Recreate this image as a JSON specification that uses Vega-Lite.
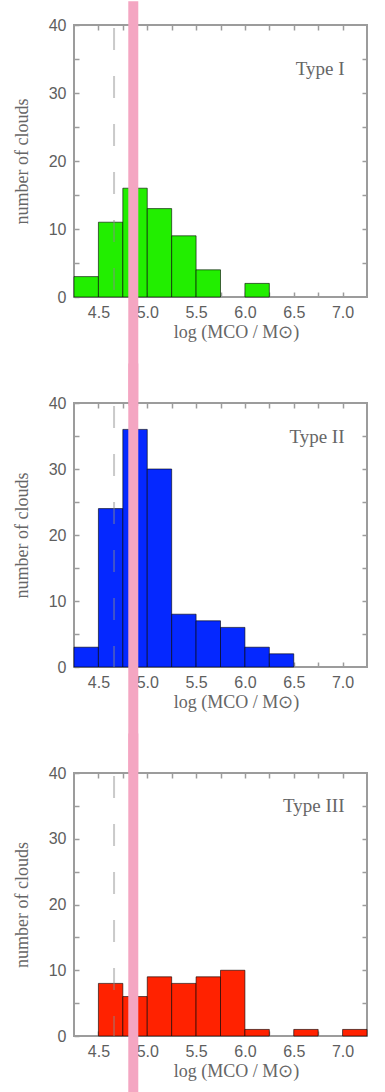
{
  "$schema": "https://vega.github.io/schema/vega-lite/v6.json",
  "background": "white",
  "padding": {"left": 12, "top": -5, "right": 0, "bottom": 0},
  "autosize": {"type": "pad"},
  "spacing": 106,
  "bounds": "flush",
  "config": {
    "view": {"stroke": "#9c9c9c", "strokeWidth": 2},
    "axis": {
      "domain": false,
      "grid": false,
      "tickColor": "#9c9c9c",
      "tickWidth": 1.5,
      "tickSize": -5,
      "labelFont": "Liberation Sans",
      "labelFontSize": 16,
      "labelColor": "#5e5e5e",
      "labelOverlap": false,
      "labelBound": false,
      "titleFont": "Liberation Serif",
      "titleFontSize": 18,
      "titleFontWeight": "normal",
      "titleColor": "#666666"
    }
  },
  "datasets": {
    "type1": [
      {"start": 4.25, "end": 4.5, "count": 3},
      {"start": 4.5, "end": 4.75, "count": 11},
      {"start": 4.75, "end": 5.0, "count": 16},
      {"start": 5.0, "end": 5.25, "count": 13},
      {"start": 5.25, "end": 5.5, "count": 9},
      {"start": 5.5, "end": 5.75, "count": 4},
      {"start": 6.0, "end": 6.25, "count": 2}
    ],
    "type2": [
      {"start": 4.25, "end": 4.5, "count": 3},
      {"start": 4.5, "end": 4.75, "count": 24},
      {"start": 4.75, "end": 5.0, "count": 36},
      {"start": 5.0, "end": 5.25, "count": 30},
      {"start": 5.25, "end": 5.5, "count": 8},
      {"start": 5.5, "end": 5.75, "count": 7},
      {"start": 5.75, "end": 6.0, "count": 6},
      {"start": 6.0, "end": 6.25, "count": 3},
      {"start": 6.25, "end": 6.5, "count": 2}
    ],
    "type3": [
      {"start": 4.5, "end": 4.75, "count": 8},
      {"start": 4.75, "end": 5.0, "count": 6},
      {"start": 5.0, "end": 5.25, "count": 9},
      {"start": 5.25, "end": 5.5, "count": 8},
      {"start": 5.5, "end": 5.75, "count": 9},
      {"start": 5.75, "end": 6.0, "count": 10},
      {"start": 6.0, "end": 6.25, "count": 1},
      {"start": 6.5, "end": 6.75, "count": 1},
      {"start": 7.0, "end": 7.25, "count": 1}
    ]
  },
  "vconcat": [
    {
      "width": 293,
      "height": 272,
      "resolve": {"axis": {"x": "independent", "y": "independent"}},
      "layer": [
        {
          "data": {"name": "type1"},
          "mark": {"type": "rect", "fill": "#22ee00", "stroke": "#000000", "strokeOpacity": 0.6, "strokeWidth": 1},
          "encoding": {
            "x": {"field": "start", "type": "quantitative", "scale": {"domain": [4.25, 7.25], "nice": false, "zero": false},
              "axis": {"orient": "bottom", "values": [4.5, 4.75, 5.0, 5.25, 5.5, 5.75, 6.0, 6.25, 6.5, 6.75, 7.0], "labelExpr": "(datum.value * 2) % 1 == 0 ? format(datum.value, '.1f') : ''", "labelPadding": 12, "titlePadding": 3, "titleX": 162, "title": "log (MCO / M⊙)"}},
            "x2": {"field": "end"},
            "y": {"field": "count", "type": "quantitative", "scale": {"domain": [0, 40], "nice": false},
              "axis": {"orient": "left", "values": [0, 5, 10, 15, 20, 25, 30, 35, 40], "labelExpr": "datum.value % 10 == 0 ? datum.label : ''", "labelPadding": 13, "titlePadding": 17, "title": "number of clouds"}},
            "y2": {"datum": 0}
          }
        },
        {
          "data": {"values": [{}]},
          "mark": {"type": "rule", "color": "#8a8a8a", "opacity": 0.45, "strokeWidth": 2, "strokeDash": [22, 26], "strokeDashOffset": -3},
          "encoding": {
            "x": {"datum": 4.66, "type": "quantitative", "axis": null},
            "y": {"datum": 40, "type": "quantitative", "axis": null},
            "y2": {"datum": 0}
          }
        },
        {
          "data": {"values": [{}]},
          "mark": {"type": "text", "align": "right", "baseline": "middle", "font": "Liberation Serif", "fontSize": 19, "color": "#666666"},
          "encoding": {
            "x": {"datum": 7.02, "type": "quantitative", "axis": {"orient": "top", "values": [4.5, 4.75, 5.0, 5.25, 5.5, 5.75, 6.0, 6.25, 6.5, 6.75, 7.0], "labels": false, "title": null}},
            "y": {"datum": 33.5, "type": "quantitative", "axis": {"orient": "right", "values": [5, 10, 15, 20, 25, 30, 35], "labels": false, "title": null}},
            "text": {"value": "Type I"}
          }
        },
        {
          "data": {"values": [{}]},
          "mark": {"type": "rule", "color": "#f4a6c2", "strokeWidth": 10, "clip": false},
          "encoding": {
            "x": {"datum": 4.857, "type": "quantitative", "axis": null},
            "y": {"datum": -16, "type": "quantitative", "axis": null},
            "y2": {"datum": 43.5}
          }
        }
      ]
    },
    {
      "width": 293,
      "height": 264,
      "resolve": {"axis": {"x": "independent", "y": "independent"}},
      "layer": [
        {
          "data": {"name": "type2"},
          "mark": {"type": "rect", "fill": "#0528ff", "stroke": "#000000", "strokeOpacity": 0.6, "strokeWidth": 1},
          "encoding": {
            "x": {"field": "start", "type": "quantitative", "scale": {"domain": [4.25, 7.25], "nice": false, "zero": false},
              "axis": {"orient": "bottom", "values": [4.5, 4.75, 5.0, 5.25, 5.5, 5.75, 6.0, 6.25, 6.5, 6.75, 7.0], "labelExpr": "(datum.value * 2) % 1 == 0 ? format(datum.value, '.1f') : ''", "labelPadding": 12, "titlePadding": 3, "titleX": 162, "title": "log (MCO / M⊙)"}},
            "x2": {"field": "end"},
            "y": {"field": "count", "type": "quantitative", "scale": {"domain": [0, 40], "nice": false},
              "axis": {"orient": "left", "values": [0, 5, 10, 15, 20, 25, 30, 35, 40], "labelExpr": "datum.value % 10 == 0 ? datum.label : ''", "labelPadding": 13, "titlePadding": 17, "title": "number of clouds"}},
            "y2": {"datum": 0}
          }
        },
        {
          "data": {"values": [{}]},
          "mark": {"type": "rule", "color": "#8a8a8a", "opacity": 0.45, "strokeWidth": 2, "strokeDash": [22, 26], "strokeDashOffset": -3},
          "encoding": {
            "x": {"datum": 4.66, "type": "quantitative", "axis": null},
            "y": {"datum": 40, "type": "quantitative", "axis": null},
            "y2": {"datum": 0}
          }
        },
        {
          "data": {"values": [{}]},
          "mark": {"type": "text", "align": "right", "baseline": "middle", "font": "Liberation Serif", "fontSize": 19, "color": "#666666"},
          "encoding": {
            "x": {"datum": 7.02, "type": "quantitative", "axis": {"orient": "top", "values": [4.5, 4.75, 5.0, 5.25, 5.5, 5.75, 6.0, 6.25, 6.5, 6.75, 7.0], "labels": false, "title": null}},
            "y": {"datum": 34.9, "type": "quantitative", "axis": {"orient": "right", "values": [5, 10, 15, 20, 25, 30, 35], "labels": false, "title": null}},
            "text": {"value": "Type II"}
          }
        },
        {
          "data": {"values": [{}]},
          "mark": {"type": "rule", "color": "#f4a6c2", "strokeWidth": 10, "clip": false},
          "encoding": {
            "x": {"datum": 4.857, "type": "quantitative", "axis": null},
            "y": {"datum": -16, "type": "quantitative", "axis": null},
            "y2": {"datum": 46}
          }
        }
      ]
    },
    {
      "width": 293,
      "height": 263,
      "resolve": {"axis": {"x": "independent", "y": "independent"}},
      "layer": [
        {
          "data": {"name": "type3"},
          "mark": {"type": "rect", "fill": "#ff2200", "stroke": "#000000", "strokeOpacity": 0.6, "strokeWidth": 1},
          "encoding": {
            "x": {"field": "start", "type": "quantitative", "scale": {"domain": [4.25, 7.25], "nice": false, "zero": false},
              "axis": {"orient": "bottom", "values": [4.5, 4.75, 5.0, 5.25, 5.5, 5.75, 6.0, 6.25, 6.5, 6.75, 7.0], "labelExpr": "(datum.value * 2) % 1 == 0 ? format(datum.value, '.1f') : ''", "labelPadding": 12, "titlePadding": 3, "titleX": 162, "title": "log (MCO / M⊙)"}},
            "x2": {"field": "end"},
            "y": {"field": "count", "type": "quantitative", "scale": {"domain": [0, 40], "nice": false},
              "axis": {"orient": "left", "values": [0, 5, 10, 15, 20, 25, 30, 35, 40], "labelExpr": "datum.value % 10 == 0 ? datum.label : ''", "labelPadding": 13, "titlePadding": 17, "title": "number of clouds"}},
            "y2": {"datum": 0}
          }
        },
        {
          "data": {"values": [{}]},
          "mark": {"type": "rule", "color": "#8a8a8a", "opacity": 0.45, "strokeWidth": 2, "strokeDash": [22, 26], "strokeDashOffset": -3},
          "encoding": {
            "x": {"datum": 4.66, "type": "quantitative", "axis": null},
            "y": {"datum": 40, "type": "quantitative", "axis": null},
            "y2": {"datum": 0}
          }
        },
        {
          "data": {"values": [{}]},
          "mark": {"type": "text", "align": "right", "baseline": "middle", "font": "Liberation Serif", "fontSize": 19, "color": "#666666"},
          "encoding": {
            "x": {"datum": 7.02, "type": "quantitative", "axis": {"orient": "top", "values": [4.5, 4.75, 5.0, 5.25, 5.5, 5.75, 6.0, 6.25, 6.5, 6.75, 7.0], "labels": false, "title": null}},
            "y": {"datum": 35, "type": "quantitative", "axis": {"orient": "right", "values": [5, 10, 15, 20, 25, 30, 35], "labels": false, "title": null}},
            "text": {"value": "Type III"}
          }
        },
        {
          "data": {"values": [{}]},
          "mark": {"type": "rule", "color": "#f4a6c2", "strokeWidth": 10, "clip": false},
          "encoding": {
            "x": {"datum": 4.857, "type": "quantitative", "axis": null},
            "y": {"datum": -9, "type": "quantitative", "axis": null},
            "y2": {"datum": 46}
          }
        }
      ]
    }
  ]
}
